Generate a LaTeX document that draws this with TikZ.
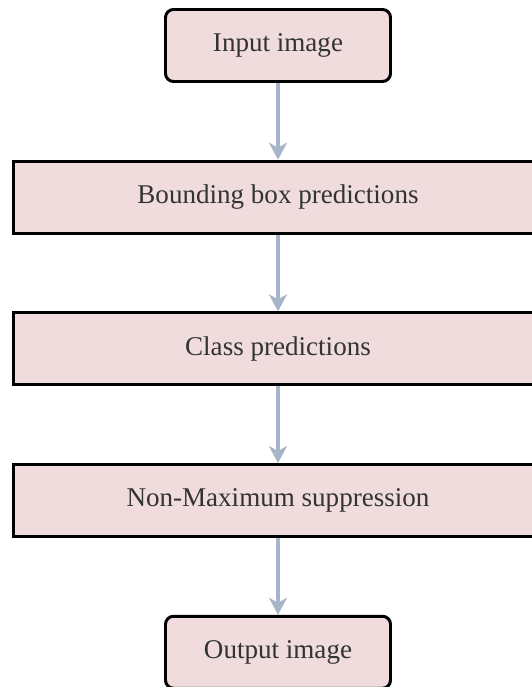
\documentclass[tikz,border=0pt]{standalone}
\usepackage{fontspec}
\setmainfont{Liberation Serif}
\usetikzlibrary{positioning,arrows.meta}
\definecolor{boxpink}{RGB}{240,220,221}
\definecolor{arrowblue}{RGB}{166,181,202}
\definecolor{textgray}{RGB}{51,51,51}
\tikzset{
  stage/.style={draw=black, line width=1.7pt, fill=boxpink, text=textgray,
    minimum height=1.44cm, font=\fontsize{15.4}{18}\selectfont},
  endstage/.style={stage, rounded corners=0.16cm, minimum width=4.5cm},
  midstage/.style={stage, minimum width=10.58cm},
  flow/.style={draw=arrowblue, line width=2.3pt,
    -{Stealth[length=0.34cm,width=0.36cm,inset=0.1cm]}}
}
\begin{document}
\begin{tikzpicture}[node distance=1.534cm]
\useasboundingbox (-5.56,0.91) rectangle (5.06,-12.83);
% pipeline stages
\node[endstage] (input) at (0,0) {Input image};
\node[midstage, below=of input] (bbox) {Bounding box predictions};
\node[midstage, below=of bbox] (cls) {Class predictions};
\node[midstage, below=of cls] (nms) {Non-Maximum suppression};
\node[endstage, below=of nms] (output) {Output image};
% arrows
\draw[flow] (input) -- (bbox);
\draw[flow] (bbox) -- (cls);
\draw[flow] (cls) -- (nms);
\draw[flow] (nms) -- (output);
\end{tikzpicture}
\end{document}
